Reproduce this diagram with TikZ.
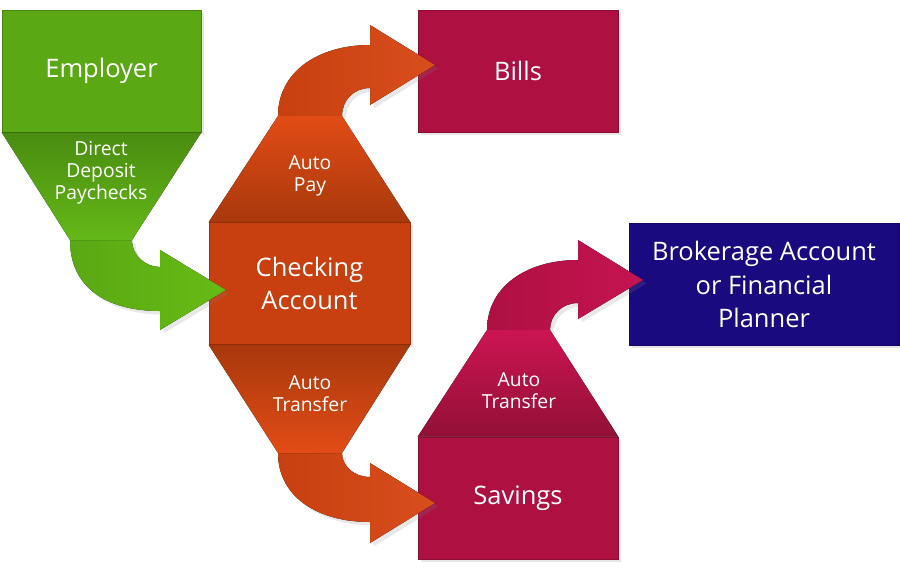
\documentclass[tikz,border=0pt]{standalone}
\usepackage{fontspec}
\setmainfont{Open Sans}
\usetikzlibrary{shadows}
\usetikzlibrary{positioning}
\usetikzlibrary{calc}

\definecolor{empgreen}{HTML}{5AA814}
\definecolor{grnDark}{HTML}{4A8C10}
\definecolor{grnLight}{HTML}{64B818}
\definecolor{grnBright}{HTML}{72D016}
\definecolor{chk}{HTML}{C8400F}
\definecolor{orgDark}{HTML}{A8380C}
\definecolor{orgLight}{HTML}{E24C16}
\definecolor{orgBright}{HTML}{F05620}
\definecolor{crim}{HTML}{AE1042}
\definecolor{crimDark}{HTML}{921036}
\definecolor{crimLight}{HTML}{CC1452}
\definecolor{crimBright}{HTML}{DC165A}
\definecolor{navy}{HTML}{1A0A80}

\begin{document}
\begin{tikzpicture}[x=0.02cm, y=-0.02cm,
  box/.style={rectangle, inner sep=0pt, minimum height=2.44cm, text=white, align=center,
    font=\fontsize{14.5}{19}\selectfont,
    drop shadow={opacity=0.2, shadow xshift=1.5pt, shadow yshift=-1.5pt}},
  lbl/.style={text=white, align=center, font=\fontsize{11}{12.6}\selectfont},
  flow/.style={drop shadow={opacity=0.18, shadow xshift=2pt, shadow yshift=-2pt}}]

 \useasboundingbox (0,0) rectangle (900,569);

 %boxes
 \foreach \n/\x/\y/\w/\c/\t in {employer/101.5/71/3.98/empgreen/Employer,
     bills/518/71/4/crim/Bills,
     checking/309.5/283.5/4.02/chk/{Checking\\Account},
     savings/518/498/4/crim/Savings,
     broker/764/284.5/5.4/navy/{Brokerage Account\\or Financial\\Planner}} {
   \node[box, fill=\c, draw=\c!80!black, minimum width=\w cm] (\n) at (\x,\y) {\t};
 }

 %arrows
 \fill[flow, left color=empgreen, middle color=grnBright, right color=grnBright!90!black]
   (70,240) .. controls (70,290) and (110,311) .. (160,311) -- (160,330) -- (226,290)
   -- (160,250) -- (160,267) .. controls (146,267) and (132,256) .. (132,240) -- cycle;
 \fill[flow, left color=chk, middle color=orgLight, right color=orgBright!90!black]
   (278,116) .. controls (278,72) and (318,45) .. (370,45) -- (370,25) -- (435,65)
   -- (370,105) -- (370,88) .. controls (354,88) and (342,100) .. (342,116) -- cycle;
 \fill[flow, left color=chk, middle color=orgLight, right color=orgBright!90!black]
   (278,453) .. controls (278,497) and (318,522) .. (370,522) -- (370,543) -- (435,503)
   -- (370,463) -- (370,477) .. controls (354,477) and (342,466) .. (342,453) -- cycle;
 \fill[flow, left color=crim, middle color=crimBright, right color=crimBright!90!black]
   (487,330) .. controls (487,287) and (526,260) .. (578,260) -- (578,240) -- (643,280)
   -- (578,319) -- (578,303) .. controls (562,303) and (550,315) .. (550,330) -- cycle;

 %funnels
 \fill[top color=grnDark, bottom color=grnLight]
   (employer.south west) -- (employer.south east) -- (132,240) -- (70,240) -- cycle;
 \fill[top color=orgLight, bottom color=orgDark]
   (checking.north west) -- (checking.north east) -- (342,116) -- (278,116) -- cycle;
 \fill[top color=orgDark, bottom color=orgLight]
   (checking.south west) -- (checking.south east) -- (342,453) -- (278,453) -- cycle;
 \fill[top color=crimLight, bottom color=crimDark]
   (savings.north west) -- (savings.north east) -- (550,330) -- (487,330) -- cycle;

 %labels
 \node[lbl] (deposit) at (101,173) {Direct\\Deposit\\Paychecks};
 \node[lbl] (autopay) at (310,176) {Auto\\Pay};
 \node[lbl] (tosave) at (310,394) {Auto\\Transfer};
 \node[lbl] (tobroker) at (519,391) {Auto\\Transfer};

\end{tikzpicture}
\end{document}
